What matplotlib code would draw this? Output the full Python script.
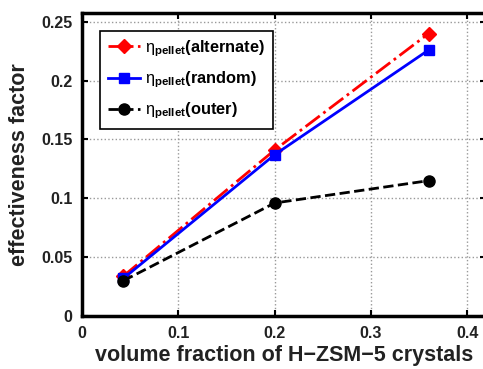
import matplotlib
matplotlib.use("Agg")
import matplotlib.pyplot as plt

plt.rcParams["font.family"] = ["Liberation Sans", "DejaVu Sans"]
plt.rcParams["mathtext.fontset"] = "custom"
plt.rcParams["mathtext.rm"] = "Liberation Sans"
plt.rcParams["mathtext.it"] = "Liberation Sans"
plt.rcParams["mathtext.bf"] = "Liberation Sans:bold"

vol_frac = [0.043, 0.2, 0.36]
eta_alternate = [0.034, 0.141, 0.240]
eta_random = [0.032, 0.137, 0.226]
eta_outer = [0.030, 0.096, 0.115]

fig = plt.figure(figsize=(4.83, 3.69), dpi=100)
ax = fig.add_axes([0.170, 0.1436, 0.837, 0.8214])

ax.plot(vol_frac, eta_alternate, color="red", linestyle="-.", linewidth=2,
        marker="D", markersize=7, label=r"$\mathrm{\eta}_{\mathbf{pellet}}$(alternate)")
ax.plot(vol_frac, eta_random, color="blue", linestyle="-", linewidth=2,
        marker="s", markersize=7, label=r"$\mathrm{\eta}_{\mathbf{pellet}}$(random)")
ax.plot(vol_frac, eta_outer, color="black", linestyle="--", linewidth=2,
        marker="o", markersize=8, label=r"$\mathrm{\eta}_{\mathbf{pellet}}$(outer)")

ax.set_xlim(0, 0.42)
ax.set_ylim(0, 0.2575)
ax.set_xticks([0, 0.1, 0.2, 0.3, 0.4])
ax.set_xticklabels(["0", "0.1", "0.2", "0.3", "0.4"])
ax.set_yticks([0, 0.05, 0.1, 0.15, 0.2, 0.25])
ax.set_yticklabels(["0", "0.05", "0.1", "0.15", "0.2", "0.25"])
ax.tick_params(direction="in", top=True, right=True, labelsize=11.5,
               labelcolor="#222222", width=1.5, length=4, pad=7)
for lab in ax.get_xticklabels() + ax.get_yticklabels():
    lab.set_fontweight("bold")

ax.grid(True, linestyle=":", color="#999999", linewidth=1)
for s in ax.spines.values():
    s.set_linewidth(2.5)

ax.set_xlabel("volume fraction of H\u2212ZSM\u22125 crystals", fontsize=15.5,
              fontweight="bold", color="#222222", labelpad=3)
ax.set_ylabel("effectiveness factor", fontsize=15.5, fontweight="bold",
              color="#222222", labelpad=8)

leg = ax.legend(loc="upper left", fontsize=11.8, fancybox=False, framealpha=1,
                edgecolor="black", handlelength=2.0, borderaxespad=1.1,
                handletextpad=0.3, labelspacing=0.65, borderpad=0.45)
leg.get_frame().set_linewidth(1.2)
for t in leg.get_texts():
    t.set_fontweight("bold")

fig.savefig("out.png", dpi=100)
